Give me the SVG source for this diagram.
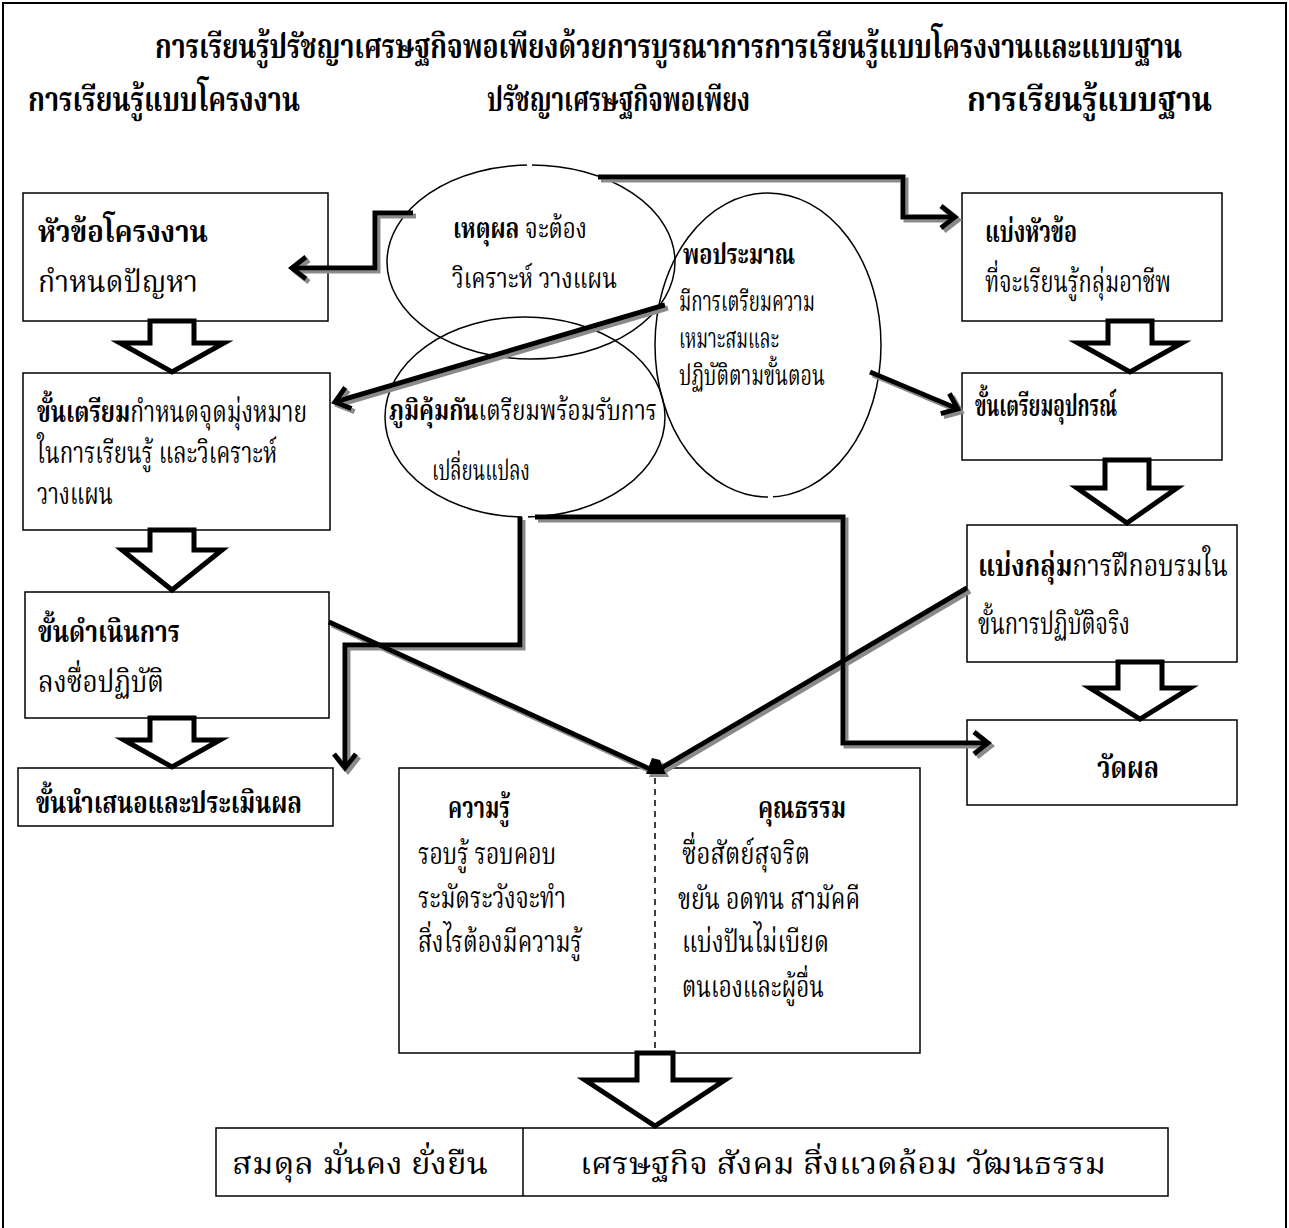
<svg xmlns="http://www.w3.org/2000/svg" width="1289" height="1228" viewBox="0 0 1289 1228">
<style>
text{font-family:'Noto Serif Thai','Noto Sans Thai','Tlwg Typo','Norasi','Garuda','Loma','Liberation Serif',serif;fill:#000}
.t{font-size:34px;font-weight:bold}
.h{font-size:34px;font-weight:bold}
.x{font-size:30px}
.e{font-size:28px}
.b{font-weight:bold}
.box{fill:#fff;stroke:#000;stroke-width:1.5}
.ell{fill:none;stroke:#000;stroke-width:1.5}
.blk{fill:#fff;stroke:#000;stroke-width:5;stroke-linejoin:miter}
.con{fill:none;stroke:#000;stroke-width:5}
</style>
<defs>
<filter id="sh" x="-10%" y="-10%" width="120%" height="120%"><feDropShadow dx="3" dy="3" stdDeviation="0.6" flood-color="#8a8a8a"/></filter>
<marker id="ah" markerUnits="userSpaceOnUse" markerWidth="30" markerHeight="30" refX="16" refY="12" orient="auto" overflow="visible"><path d="M2,1 L16,12 L2,23" fill="none" stroke="#000" stroke-width="5"/></marker>
</defs>
<rect x="3" y="3" width="1283" height="1240" fill="#fff" stroke="#000" stroke-width="2"/>
<g id="titles">
<text class="t" x="155" y="58" textLength="1027" lengthAdjust="spacingAndGlyphs">การเรียนรู้ปรัชญาเศรษฐกิจพอเพียงด้วยการบูรณาการการเรียนรู้แบบโครงงานและแบบฐาน</text>
<text class="h" x="28" y="111" textLength="272" lengthAdjust="spacingAndGlyphs">การเรียนรู้แบบโครงงาน</text>
<text class="h" x="487" y="111" textLength="263" lengthAdjust="spacingAndGlyphs">ปรัชญาเศรษฐกิจพอเพียง</text>
<text class="h" x="967" y="111" textLength="245" lengthAdjust="spacingAndGlyphs">การเรียนรู้แบบฐาน</text>
</g>
<g id="ellipses">
<ellipse class="ell" cx="531" cy="262" rx="144" ry="97"/>
<ellipse class="ell" cx="768" cy="345" rx="113" ry="152"/>
<ellipse class="ell" cx="525" cy="417" rx="140" ry="100"/>
<rect x="527" y="162" width="5" height="6" fill="#fff"/>
<rect x="768" y="494" width="5" height="6" fill="#fff"/>
<rect x="522" y="514" width="6" height="6" fill="#fff"/>
<text class="e" x="453" y="238" textLength="134" lengthAdjust="spacingAndGlyphs"><tspan class="b">เหตุผล</tspan> จะต้อง</text>
<text class="e" x="452" y="288" textLength="165" lengthAdjust="spacingAndGlyphs">วิเคราะห์ วางแผน</text>
<text class="e b" x="683" y="264" textLength="112" lengthAdjust="spacingAndGlyphs">พอประมาณ</text>
<text class="e" x="679" y="311" textLength="136" lengthAdjust="spacingAndGlyphs">มีการเตรียมความ</text>
<text class="e" x="679" y="348" textLength="100" lengthAdjust="spacingAndGlyphs">เหมาะสมและ</text>
<text class="e" x="679" y="385" textLength="146" lengthAdjust="spacingAndGlyphs">ปฏิบัติตามขั้นตอน</text>
<text class="e" x="389" y="420" textLength="268" lengthAdjust="spacingAndGlyphs"><tspan class="b">ภูมิคุ้มกัน</tspan>เตรียมพร้อมรับการ</text>
<text class="e" x="432" y="480" textLength="98" lengthAdjust="spacingAndGlyphs">เปลี่ยนแปลง</text>
</g>
<g id="node-L1"><rect class="box" x="23" y="193" width="305" height="128"/>
<text class="x b" x="38" y="242" textLength="170" lengthAdjust="spacingAndGlyphs">หัวข้อโครงงาน</text>
<text class="x" x="38" y="292" textLength="160" lengthAdjust="spacingAndGlyphs">กำหนดปัญหา</text></g>
<g id="node-L2"><rect class="box" x="23" y="373" width="307" height="157"/>
<text class="x" x="37" y="422" textLength="270" lengthAdjust="spacingAndGlyphs"><tspan class="b">ขั้นเตรียม</tspan>กำหนดจุดมุ่งหมาย</text>
<text class="x" x="37" y="463" textLength="240" lengthAdjust="spacingAndGlyphs">ในการเรียนรู้ และวิเคราะห์</text>
<text class="x" x="37" y="504" textLength="76" lengthAdjust="spacingAndGlyphs">วางแผน</text></g>
<g id="node-L3"><rect class="box" x="25" y="592" width="304" height="126"/>
<text class="x b" x="38" y="642" textLength="142" lengthAdjust="spacingAndGlyphs">ขั้นดำเนินการ</text>
<text class="x" x="38" y="692" textLength="126" lengthAdjust="spacingAndGlyphs">ลงซื่อปฏิบัติ</text></g>
<g id="node-L4"><rect class="box" x="18" y="768" width="315" height="58"/>
<text class="x b" x="36" y="813" textLength="266" lengthAdjust="spacingAndGlyphs">ขั้นนำเสนอและประเมินผล</text></g>
<g id="node-R1"><rect class="box" x="962" y="193" width="260" height="128"/>
<text class="x b" x="985" y="242" textLength="92" lengthAdjust="spacingAndGlyphs">แบ่งหัวข้อ</text>
<text class="x" x="985" y="292" textLength="186" lengthAdjust="spacingAndGlyphs">ที่จะเรียนรู้กลุ่มอาชีพ</text></g>
<g id="node-R2"><rect class="box" x="962" y="373" width="260" height="87"/>
<text class="x b" x="975" y="416" textLength="142" lengthAdjust="spacingAndGlyphs">ขั้นเตรียมอุปกรณ์</text></g>
<g id="node-R3"><rect class="box" x="967" y="525" width="270" height="137"/>
<text class="x" x="978" y="576" textLength="250" lengthAdjust="spacingAndGlyphs"><tspan class="b">แบ่งกลุ่ม</tspan>การฝึกอบรมใน</text>
<text class="x" x="978" y="634" textLength="152" lengthAdjust="spacingAndGlyphs">ขั้นการปฏิบัติจริง</text></g>
<g id="node-R4"><rect class="box" x="967" y="720" width="270" height="85"/>
<text class="x b" x="1128" y="778" text-anchor="middle" textLength="62" lengthAdjust="spacingAndGlyphs">วัดผล</text></g>
<g id="node-C"><rect class="box" x="399" y="768" width="521" height="285"/>
<line x1="655" y1="778" x2="655" y2="1053" stroke="#000" stroke-width="1.5" stroke-dasharray="6,5"/>
<text class="x b" x="448" y="818" textLength="62" lengthAdjust="spacingAndGlyphs">ความรู้</text>
<text class="x" x="418" y="864" textLength="138" lengthAdjust="spacingAndGlyphs">รอบรู้ รอบคอบ</text>
<text class="x" x="418" y="908" textLength="148" lengthAdjust="spacingAndGlyphs">ระมัดระวังจะทำ</text>
<text class="x" x="418" y="952" textLength="164" lengthAdjust="spacingAndGlyphs">สิ่งไรต้องมีความรู้</text>
<text class="x b" x="758" y="818" textLength="88" lengthAdjust="spacingAndGlyphs">คุณธรรม</text>
<text class="x" x="682" y="864" textLength="128" lengthAdjust="spacingAndGlyphs">ซื่อสัตย์สุจริต</text>
<text class="x" x="678" y="909" textLength="182" lengthAdjust="spacingAndGlyphs">ขยัน อดทน สามัคคี</text>
<text class="x" x="682" y="952" textLength="147" lengthAdjust="spacingAndGlyphs">แบ่งปันไม่เบียด</text>
<text class="x" x="682" y="997" textLength="142" lengthAdjust="spacingAndGlyphs">ตนเองและผู้อื่น</text></g>
<g id="node-bottom"><rect class="box" x="216" y="1128" width="952" height="68"/>
<line x1="523" y1="1128" x2="523" y2="1196" stroke="#000" stroke-width="1.5"/>
<text class="x" x="232" y="1174" textLength="256" lengthAdjust="spacingAndGlyphs">สมดุล มั่นคง  ยั่งยืน</text>
<text class="x" x="580" y="1174" textLength="526" lengthAdjust="spacingAndGlyphs">เศรษฐกิจ  สังคม สิ่งแวดล้อม วัฒนธรรม</text></g>
<g id="block-arrows">
<path class="blk" d="M150,321 H194 V343 H224 L172,372 L120,343 H150 Z"/>
<path class="blk" d="M150,530 H194 V550 H222 L172,590 L122,550 H150 Z"/>
<path class="blk" d="M150,718 H194 V740 H220 L172,767 L124,740 H150 Z"/>
<path class="blk" d="M1108,321 H1152 V343 H1182 L1130,372 L1078,343 H1108 Z"/>
<path class="blk" d="M1105,460 H1149 V488 H1177 L1127,523 L1077,488 H1105 Z"/>
<path class="blk" d="M1118,662 H1162 V688 H1190 L1140,719 L1090,688 H1118 Z"/>
<path class="blk" d="M637,1053 H673 V1080 H725 L655,1126 L585,1080 H637 Z"/>
</g>
<g id="connectors" filter="url(#sh)">
<path class="con" d="M413,213 H375 V268 H292" marker-end="url(#ah)"/>
<path class="con" d="M598,177 H903 V217 H955" marker-end="url(#ah)"/>
<path class="con" d="M665,305 L335,402" marker-end="url(#ah)"/>
<path class="con" d="M870,372 L958,409" marker-end="url(#ah)"/>
<path class="con" d="M520,517 V645 H345 V768" marker-end="url(#ah)"/>
<path class="con" d="M535,517 H843 V743 H988" marker-end="url(#ah)"/>
<path class="con" d="M329,622 L652,770"/>
<path class="con" d="M967,588 L658,770"/>
<path d="M646,774 L652,758 L660,760 L666,774 Z" fill="#000"/>
</g>
</svg>
